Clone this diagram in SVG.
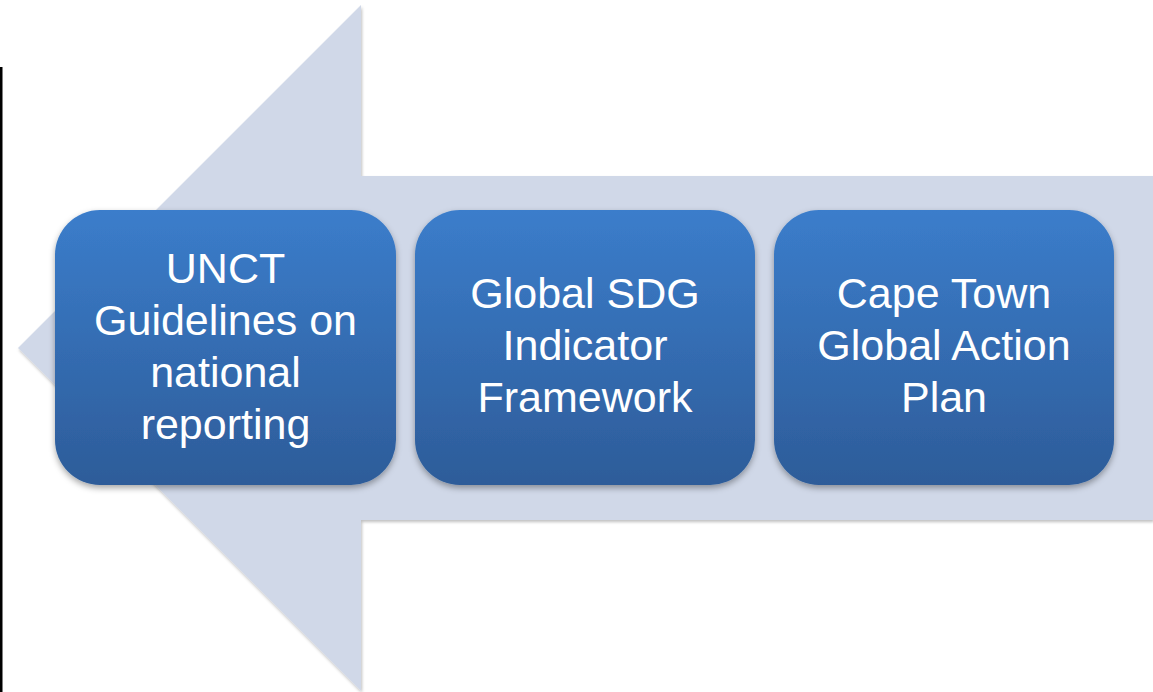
<svg xmlns="http://www.w3.org/2000/svg" width="1153" height="692" viewBox="0 0 1153 692">
<defs>
<linearGradient id="boxGrad" x1="0" y1="0" x2="0" y2="1">
<stop offset="0" stop-color="#3B7DCB"/>
<stop offset="1" stop-color="#2D5C99"/>
</linearGradient>
<filter id="shadow" x="-10%" y="-10%" width="120%" height="125%">
<feDropShadow dx="0" dy="3" stdDeviation="3" flood-color="#000" flood-opacity="0.35"/>
</filter>
<filter id="arrowShadow" x="-5%" y="-5%" width="110%" height="110%">
<feDropShadow dx="1" dy="2" stdDeviation="1.5" flood-color="#000" flood-opacity="0.25"/>
</filter>
</defs>
<style>
.box{fill:url(#boxGrad);filter:url(#shadow);}
.lbl{fill:#FFFFFF;font-family:"Liberation Sans",Arial,sans-serif;font-size:43px;text-anchor:middle;}
</style>
<rect width="1153" height="692" fill="#FFFFFF"/>
<rect x="0" y="67" width="2.5" height="625" fill="#000000"/>
<g id="arrow">
<polygon points="18,348 361,5 361,176 1153,176 1153,520 361,520 361,691" fill="#D0D8E8" filter="url(#arrowShadow)"/>
</g>
<g id="connectors"></g>
<g id="node1">
<rect class="box" x="55" y="210" width="341" height="275" rx="45" ry="45"/>
<text class="lbl" x="225.5" y="283">UNCT</text>
<text class="lbl" x="225.5" y="335">Guidelines on</text>
<text class="lbl" x="225.5" y="387">national</text>
<text class="lbl" x="225.5" y="439">reporting</text>
</g>
<g id="node2">
<rect class="box" x="415" y="210" width="340" height="275" rx="45" ry="45"/>
<text class="lbl" x="585" y="308">Global SDG</text>
<text class="lbl" x="585" y="360">Indicator</text>
<text class="lbl" x="585" y="412">Framework</text>
</g>
<g id="node3">
<rect class="box" x="774" y="210" width="340" height="275" rx="45" ry="45"/>
<text class="lbl" x="944" y="308">Cape Town</text>
<text class="lbl" x="944" y="360">Global Action</text>
<text class="lbl" x="944" y="412">Plan</text>
</g>
</svg>
